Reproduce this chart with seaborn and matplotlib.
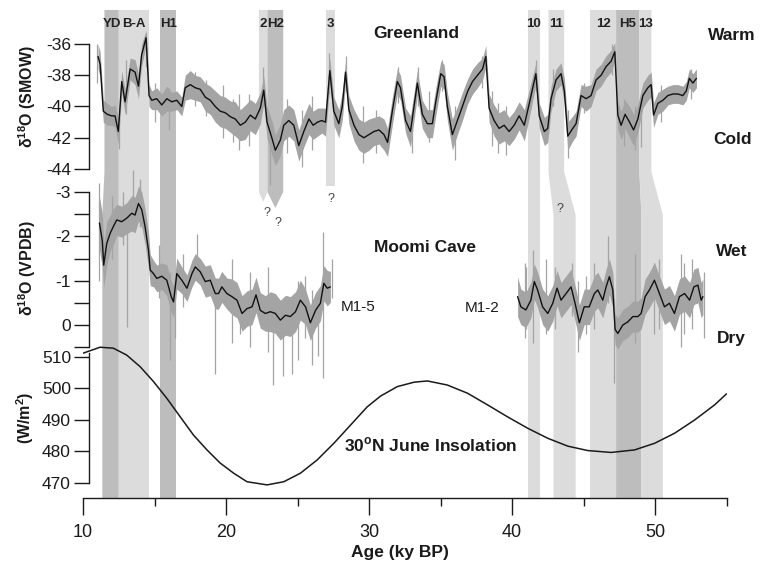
import matplotlib
matplotlib.use("Agg")
import matplotlib.pyplot as plt
import seaborn as sns
import numpy as np
import pandas as pd

# ---- Greenland d18O (SMOW), smoothed curve + spread of raw data ----
gis_age = [11.05, 11.2, 11.42, 11.7, 12.0, 12.24, 12.47, 12.71, 12.94, 13.3, 13.64, 13.88, 14.1, 14.41,
           14.62, 14.81, 15.16, 15.51, 15.86, 16.21, 16.56, 16.91, 17.15, 17.5, 17.85, 18.2, 18.55, 18.9,
           19.25, 19.6, 19.95, 20.3, 20.65, 21.0, 21.35, 21.7, 22.05, 22.4, 22.64, 22.87, 23.22, 23.45,
           23.8, 24.04, 24.39, 24.74, 25.09, 25.44, 25.8, 26.1, 26.4, 26.7, 26.96, 27.26, 27.54, 27.89,
           28.13, 28.36, 28.59, 28.95, 29.3, 29.64, 30.0, 30.35, 30.7, 31.05, 31.3, 31.63, 31.98, 32.2,
           32.56, 32.9, 33.15, 33.38, 33.73, 34.08, 34.43, 34.67, 35.02, 35.25, 35.48, 35.83, 36.18,
           36.53, 36.89, 37.24, 37.59, 37.94, 38.17, 38.4, 38.75, 39.1, 39.45, 39.8, 40.15, 40.5, 40.86,
           41.21, 41.67, 41.91, 42.26, 42.5, 42.73, 43.08, 43.43, 43.66, 43.9, 44.25, 44.48, 44.83,
           45.18, 45.53, 45.88, 46.23, 46.58, 46.93, 47.19, 47.4, 47.63, 47.91, 48.22, 48.5, 48.8,
           49.15, 49.5, 49.73, 49.9, 50.2, 50.55, 50.9, 51.25, 51.6, 51.95, 52.19, 52.4, 52.65, 52.9]
gis_d18o = [-36.8, -37.3, -40.3, -40.5, -40.6, -40.6, -41.6, -38.4, -39.7, -37.6, -37.8, -38.7, -36.7, -35.6,
            -39.3, -39.6, -39.5, -39.9, -39.5, -39.7, -39.6, -40.0, -38.8, -38.6, -38.8, -38.9, -39.4, -39.6,
            -40.0, -40.3, -40.4, -40.65, -40.8, -41.2, -41.0, -40.55, -40.8, -40.1, -38.95, -41.0, -42.05, -42.8,
            -42.15, -41.2, -40.9, -41.2, -42.5, -41.6, -40.8, -41.2, -41.0, -40.9, -41.0, -37.7, -40.3, -41.1,
            -40.0, -37.8, -40.2, -41.2, -41.8, -42.0, -41.8, -41.6, -41.5, -41.8, -42.3, -40.3, -38.4, -38.8,
            -40.9, -41.6, -40.0, -38.5, -40.5, -41.1, -41.1, -39.7, -37.9, -38.1, -40.0, -41.8, -40.9,
            -40.0, -39.05, -38.4, -38.0, -37.6, -36.8, -40.1, -40.9, -41.4, -41.2, -41.6, -41.2, -40.6, -41.2,
            -39.8, -37.9, -40.6, -41.6, -41.4, -39.5, -38.3, -37.9, -39.0, -41.9, -41.4, -41.1, -39.3,
            -39.5, -39.3, -38.3, -38.0, -37.45, -37.1, -36.5, -40.55, -41.2, -40.5, -41.0, -41.5, -40.8,
            -39.3, -38.8, -38.6, -40.55, -39.8, -39.6, -39.3, -39.2, -39.2, -39.3, -39.0, -38.2, -38.5, -38.2]
gis_spread = [0.8, 0.8, 0.7, 0.7, 0.6, 0.7, 0.8, 0.7, 0.8, 0.7, 0.8, 0.8, 0.7, 0.5,
              0.7, 0.6, 0.7, 0.7, 0.8, 0.6, 0.6, 0.6, 0.8, 0.9, 0.8, 0.8, 0.9, 0.9,
              1.0, 1.0, 1.0, 1.0, 1.1, 1.0, 1.1, 1.0, 1.0, 1.0, 0.9, 1.0, 1.1, 1.0,
              1.0, 1.0, 1.0, 1.0, 1.0, 1.0, 1.0, 0.9, 0.9, 0.8, 0.9, 0.8, 0.9, 0.9,
              0.9, 0.7, 0.9, 1.0, 1.0, 1.0, 1.0, 0.9, 0.9, 1.0, 0.9, 0.9, 0.8, 0.8,
              0.8, 1.0, 0.9, 0.8, 0.9, 0.9, 0.9, 0.9, 0.8, 0.8, 0.9, 1.0, 0.9,
              0.9, 0.8, 0.8, 0.8, 0.7, 0.7, 0.9, 1.0, 1.0, 1.0, 0.9, 0.9, 0.9, 1.0,
              0.9, 0.7, 0.8, 0.9, 0.9, 0.8, 0.7, 0.7, 0.8, 0.9, 0.8, 0.8, 0.7,
              0.8, 0.7, 0.7, 0.7, 0.7, 0.7, 0.6, 0.9, 0.9, 0.9, 1.0, 1.0, 0.9,
              0.8, 0.8, 0.8, 0.8, 0.7, 0.7, 0.6, 0.6, 0.6, 0.6, 0.6, 0.6, 0.6, 0.6]
gis_spike_age = [11.0, 12.5, 13.0, 14.4, 15.0, 16.0, 17.8, 18.6, 19.8, 20.5, 20.9, 21.6, 22.6, 23.1,
                 24.3, 25.3, 26.0, 27.2, 28.4, 29.6, 30.5, 32.0, 33.0, 33.4, 34.2, 35.1, 36.0, 37.9,
                 38.6, 39.0, 39.6, 41.7, 42.9, 43.9, 45.0, 47.0, 47.8, 48.6, 49.0, 50.4, 52.5]
gis_spike_hi = [-36.0, -40.8, -37.0, -35.3, -38.5, -38.8, -37.8, -38.3, -38.6, -39.5, -39.2, -39.2, -37.5, -41.0,
                -39.5, -40.2, -39.3, -36.6, -36.8, -40.0, -40.2, -37.5, -40.5, -37.5, -39.0, -37.0, -40.0, -36.8,
                -39.0, -39.8, -40.0, -37.0, -37.6, -40.2, -38.5, -36.0, -39.5, -40.0, -39.5, -38.6, -37.6]
gis_spike_lo = [-38.5, -42.7, -40.5, -37.5, -41.0, -41.5, -40.0, -40.6, -42.0, -42.3, -42.8, -42.5, -40.0, -45.0,
                -43.0, -43.9, -42.8, -39.2, -39.0, -43.6, -43.0, -39.8, -43.0, -40.0, -42.3, -39.0, -43.4, -38.8,
                -42.5, -43.0, -43.1, -39.0, -40.0, -43.3, -40.4, -38.0, -42.5, -42.8, -42.6, -41.0, -39.5]

# ---- Moomi Cave d18O (VPDB): M1-5 and M1-2 ----
m15_age = [11.15, 11.35, 11.45, 11.66, 11.9, 12.12, 12.36, 12.71, 13.06, 13.41, 13.64, 13.88, 14.11, 14.34,
           14.58, 14.7, 14.93, 15.16, 15.51, 15.86, 16.17, 16.33, 16.56, 16.91, 17.27, 17.62, 17.85, 18.2,
           18.55, 18.9, 19.25, 19.48, 19.71, 20.06, 20.41, 20.77, 21.12, 21.47, 21.82, 22.1, 22.4, 22.75,
           23.1, 23.45, 23.8, 24.16, 24.5, 24.86, 25.2, 25.56, 25.9, 26.26, 26.6, 26.84, 27.08, 27.3]
m15_d18o = [-2.3, -1.9, -1.35, -1.84, -2.07, -2.22, -2.37, -2.33, -2.41, -2.52, -2.48, -2.74, -2.6, -2.22,
            -1.69, -1.24, -1.16, -1.05, -1.1, -1.01, -0.64, -0.52, -1.16, -1.01, -0.83, -1.16, -1.31, -1.2,
            -0.98, -1.01, -0.71, -0.71, -0.86, -0.71, -0.64, -0.56, -0.26, -0.37, -0.41, -0.68, -0.33, -0.26,
            -0.3, -0.26, -0.11, -0.22, -0.19, -0.3, -0.56, -0.41, -0.05, -0.33, -0.49, -0.94, -0.83, -0.86]
m15_spread = [0.6, 0.6, 0.5, 0.5, 0.4, 0.4, 0.35, 0.35, 0.35, 0.4, 0.4, 0.4, 0.4, 0.4,
              0.4, 0.35, 0.3, 0.3, 0.3, 0.35, 0.35, 0.35, 0.35, 0.3, 0.3, 0.3, 0.3, 0.3,
              0.35, 0.35, 0.35, 0.35, 0.35, 0.35, 0.4, 0.4, 0.4, 0.4, 0.4, 0.4, 0.4, 0.4,
              0.45, 0.45, 0.45, 0.45, 0.45, 0.45, 0.45, 0.4, 0.4, 0.4, 0.4, 0.4, 0.4, 0.35]
m12_age = [40.39, 40.62, 40.97, 41.32, 41.56, 41.79, 42.14, 42.5, 42.85, 43.15, 43.43, 43.78, 44.13, 44.41,
           44.71, 45.05, 45.4, 45.76, 46.0, 46.35, 46.58, 46.81, 47.05, 47.21, 47.4, 47.75, 48.1, 48.45,
           48.8, 49.03, 49.31, 49.61, 49.96, 50.31, 50.66, 51.01, 51.36, 51.71, 52.07, 52.42, 52.72, 53.0,
           53.23, 53.35]
m12_d18o = [-0.64, -0.41, -0.34, -0.56, -0.98, -0.79, -0.41, -0.26, -0.49, -0.83, -0.56, -0.71, -0.86, -0.49,
            -0.05, -0.41, -0.41, -0.71, -0.79, -0.56, -0.86, -1.09, -0.79, 0.1, 0.19, 0.0, -0.07, -0.19,
            -0.19, -0.26, -0.64, -0.79, -1.01, -0.71, -0.41, -0.49, -0.26, -0.64, -0.71, -0.56, -0.86, -0.9,
            -0.56, -0.64]
m12_spread = [0.45, 0.4, 0.4, 0.4, 0.4, 0.4, 0.4, 0.4, 0.4, 0.4, 0.4, 0.4, 0.4, 0.4,
              0.4, 0.4, 0.4, 0.4, 0.4, 0.4, 0.4, 0.4, 0.4, 0.35, 0.35, 0.35, 0.35, 0.35,
              0.35, 0.35, 0.4, 0.4, 0.4, 0.4, 0.4, 0.4, 0.4, 0.4, 0.4, 0.4, 0.4, 0.4,
              0.4, 0.4]
moomi_spike_age = [11.1, 12.0, 12.8, 13.1, 13.5, 14.0, 15.3, 16.05, 16.4, 17.0, 18.0, 19.2, 20.4, 21.0,
                   21.7, 22.95, 23.3, 24.0, 24.6, 25.0, 25.5, 26.0, 26.4, 26.8, 27.4, 40.9, 41.0, 41.5,
                   42.4, 43.0, 44.2, 44.6, 45.2, 45.7, 46.7, 47.14, 48.6, 49.9, 50.3, 51.8, 52.0, 52.6, 53.4]
moomi_spike_top = [-3.2, -2.9, -3.0, -2.5, -3.5, -3.3, -1.8, -1.2, -0.7, -1.6, -2.05, -0.9, -1.5, -0.6,
                   -1.2, -1.3, -0.5, -0.5, -0.4, -1.0, -1.1, -0.8, -0.5, -2.1, -1.5, -1.4, -1.3, -1.7,
                   -1.5, -1.3, -1.4, -1.0, -1.1, -1.4, -2.0, -0.6, -1.6, -1.4, -1.5, -1.6, -1.4, -1.5, -1.2]
moomi_spike_bot = [-1.0, -1.5, -1.8, 0.05, -2.3, -2.2, -0.6, 0.8, 0.3, -0.4, -1.0, 1.1, 0.4, 0.2,
                   0.5, 0.6, 1.35, 1.15, 1.1, 0.8, 0.3, 0.9, 0.7, 1.2, -0.6, 0.3, 0.1, 0.4,
                   0.2, 0.1, -0.2, 0.6, 0.2, 0.1, -0.5, 1.3, 0.4, 0.2, 0.1, 0.5, 0.2, 0.1, 0.3]

# ---- 30N June insolation (W/m2) ----
ins_age = [10.0, 11.19, 12.12, 13.06, 14.0, 14.93, 15.86, 16.8, 17.73, 18.67, 19.6, 20.54, 21.47, 22.87,
           24.04, 25.2, 26.37, 27.54, 28.71, 29.88, 30.81, 31.98, 33.15, 34.08, 35.48, 36.89, 38.29,
           39.69, 41.09, 42.5, 43.9, 45.3, 46.93, 48.57, 49.97, 51.37, 52.77, 54.17, 55.0]
ins_val = [511.2, 513.1, 512.8, 510.6, 506.9, 502.2, 496.9, 491.0, 485.2, 480.5, 476.3, 473.1, 470.4, 469.4,
           470.4, 473.1, 477.3, 482.6, 488.4, 494.2, 497.6, 500.6, 502.0, 502.4, 501.1, 498.5, 494.8,
           491.0, 487.4, 484.2, 481.7, 480.3, 479.7, 480.5, 482.6, 485.8, 490.0, 494.8, 498.3]

# ---- event bands (ky BP): edges in Greenland panel / in Moomi+insolation panels ----
band_name = ["YD", "B-A", "H1", "2", "H2", "3", "10", "11", "12", "H5", "13"]
band_top_x0 = [11.5, 12.5, 15.4, 22.3, 22.9, 27.0, 41.1, 42.55, 45.48, 47.28, 48.91]
band_top_x1 = [12.5, 14.65, 16.5, 22.9, 24.0, 27.65, 41.95, 43.65, 47.28, 48.91, 49.75]
band_bot_x0 = [11.35, 12.5, 15.4, None, None, None, 41.1, 42.9, 45.48, 47.28, 49.05]
band_bot_x1 = [12.5, 14.65, 16.5, None, None, None, 41.95, 44.45, 47.28, 49.05, 50.55]
band_dark = [True, False, True, False, True, False, False, False, False, True, False]

# ---------------- figure ----------------
sns.set_theme(style="white")
plt.rcParams["font.family"] = ["Liberation Sans", "DejaVu Sans"]
plt.rcParams["axes.unicode_minus"] = False
plt.rcParams["mathtext.fontset"] = "custom"
plt.rcParams["mathtext.rm"] = "Liberation Sans"
plt.rcParams["mathtext.bf"] = "Liberation Sans:bold"

W, H = 760, 564
L, R, T, B = 83, 726.5, 10, 498          # plot frame in pixels
rect = [L / W, 1 - B / H, (R - L) / W, (B - T) / H]
fig = plt.figure(figsize=(W / 100, H / 100), dpi=100)

ink = "#1a1a1a"
light, dark = "#dcdcdc", "#bdbdbd"
raw_col = "#a4a4a4"


def fit_ylim(v0, p0, v1, p1):
    # value at the bottom (B) and top (T) pixel rows
    k = (v1 - v0) / (p1 - p0)
    return v0 + (B - p0) * k, v0 + (T - p0) * k


# background axes: bands + age axis (y in pixel rows)
ax_bg = fig.add_axes(rect, zorder=0)
ax_bg.set_xlim(10, 55)
ax_bg.set_ylim(B, T)
y_split0, y_split1 = 172, 215
taper = {"2": (192, 202), "H2": (192, 208), "3": (186, 186)}
for i, nm in enumerate(band_name):
    x0, x1 = band_top_x0[i], band_top_x1[i]
    col = dark if band_dark[i] else light
    if band_bot_x0[i] is None:
        ya, yt = taper[nm]
        xs = [x0, x1, x1, (x0 + x1) / 2, x0]
        ys = [T, T, ya, yt, ya]
    else:
        b0, b1 = band_bot_x0[i], band_bot_x1[i]
        xs = [x0, x1, x1, b1, b1, b0, b0, x0]
        ys = [T, T, y_split0, y_split1, B, B, y_split1, y_split0]
    ax_bg.fill(xs, ys, color=col, lw=0, zorder=0)
    ax_bg.text((x0 + x1) / 2, 24, nm, ha="center", va="center", fontsize=9.5,
               fontweight="bold", color="#222222", zorder=3)

for sp in ["top", "right", "left"]:
    ax_bg.spines[sp].set_visible(False)
ax_bg.spines["bottom"].set_bounds(10, 55)
ax_bg.spines["bottom"].set_color(ink)
ax_bg.spines["bottom"].set_linewidth(1.0)
ax_bg.set_xticks([10, 20, 30, 40, 50])
ax_bg.set_xticklabels(["10", "20", "30", "40", "50"])
ax_bg.set_xticks([15, 25, 35, 45, 55], minor=True)
ax_bg.tick_params(axis="x", which="major", bottom=True, direction="out", length=12.5, width=1.0,
                  color=ink, labelsize=13, labelcolor=ink, pad=6)
ax_bg.tick_params(axis="x", which="minor", bottom=True, direction="out", length=6, width=1.0, color=ink)
ax_bg.set_yticks([])
ax_bg.set_facecolor("none")
ax_bg.set_xlabel("")


def overlay(z):
    ax = fig.add_axes(rect, zorder=z)
    ax.set_facecolor("none")
    ax.set_xlim(10, 55)
    for sp in ["top", "right", "bottom"]:
        ax.spines[sp].set_visible(False)
    ax.spines["left"].set_position(("data", 10.42))
    ax.spines["left"].set_color(ink)
    ax.spines["left"].set_linewidth(1.0)
    ax.xaxis.set_visible(False)
    ax.tick_params(axis="y", left=True, direction="out", length=11, width=1.0, color=ink,
                   labelsize=12.5, labelcolor=ink, pad=2)
    return ax


# insolation
ax_i = overlay(1)
sns.lineplot(x=ins_age, y=ins_val, ax=ax_i, color=ink, lw=1.1)
ax_i.set_ylim(*fit_ylim(510, 357, 470, 483))
ax_i.set_xlim(10, 55)
ax_i.spines["left"].set_bounds(470, 511.3)
ax_i.set_yticks([470, 480, 490, 500, 510])
ax_i.set_yticklabels(["470", "480", "490", "500", "510"])
ax_i.set_xlabel("")
ax_i.set_ylabel("")

# Greenland
ax_g = overlay(2)
g_lo = np.array(gis_d18o) - np.array(gis_spread)
g_hi = np.array(gis_d18o) + np.array(gis_spread)
ax_g.fill_between(gis_age, g_lo, g_hi, color=raw_col, lw=0)
ax_g.vlines(gis_spike_age, gis_spike_lo, gis_spike_hi, color=raw_col, lw=0.9)
sns.lineplot(x=gis_age, y=gis_d18o, ax=ax_g, color="#111111", lw=1.0)
ax_g.set_ylim(*fit_ylim(-36, 44, -44, 169))
ax_g.set_xlim(10, 55)
ax_g.spines["left"].set_bounds(-44, -36)
ax_g.set_yticks([-44, -42, -40, -38, -36])
ax_g.set_yticklabels(["-44", "-42", "-40", "-38", "-36"])
ax_g.set_xlabel("")
ax_g.set_ylabel("")

# Moomi Cave (axis increases downward)
ax_m = overlay(3)
for age, val, spr in [(m15_age, m15_d18o, m15_spread), (m12_age, m12_d18o, m12_spread)]:
    lo = np.array(val) - np.array(spr)
    hi = np.array(val) + np.array(spr)
    ax_m.fill_between(age, lo, hi, color=raw_col, lw=0)
ax_m.vlines(moomi_spike_age, moomi_spike_top, moomi_spike_bot, color=raw_col, lw=0.9)
sns.lineplot(x=m15_age, y=m15_d18o, ax=ax_m, color="#111111", lw=1.0)
sns.lineplot(x=m12_age, y=m12_d18o, ax=ax_m, color="#111111", lw=1.0)
ax_m.set_ylim(*fit_ylim(-3, 192, 0, 325))
ax_m.set_xlim(10, 55)
ax_m.spines["left"].set_bounds(-3, 0.5)
ax_m.set_yticks([-3, -2.5, -2, -1.5, -1, -0.5, 0, 0.5])
ax_m.set_yticklabels(["-3", "", "-2", "", "-1", "", "0", ""])
ax_m.set_xlabel("")
ax_m.set_ylabel("")


# ---------------- text ----------------
def ftext(x, y, s, **kw):
    kw.setdefault("color", ink)
    fig.text(x / W, 1 - y / H, s, ha=kw.pop("ha", "center"), va=kw.pop("va", "center"), **kw)


ftext(416, 33, "Greenland", fontsize=12.5, fontweight="bold")
ftext(425, 248, "Moomi Cave", fontsize=12.5, fontweight="bold")
ftext(431, 445, r"30$^{\mathbf{o}}$N June Insolation", fontsize=12.5, fontweight="bold")
ftext(732, 36, "Warm", fontsize=12.5, fontweight="bold")
ftext(733, 139, "Cold", fontsize=12.5, fontweight="bold")
ftext(732, 252, "Wet", fontsize=12.5, fontweight="bold")
ftext(731, 338, "Dry", fontsize=12.5, fontweight="bold")
ftext(358, 307, "M1-5", fontsize=11)
ftext(482, 308, "M1-2", fontsize=11)
ftext(400, 552, "Age (ky BP)", fontsize=12.5, fontweight="bold")
ftext(27, 96, r"δ$^{\mathbf{18}}$O (SMOW)", fontsize=11.5, fontweight="bold", rotation=90)
ftext(27, 268, r"δ$^{\mathbf{18}}$O (VPDB)", fontsize=11.5, fontweight="bold", rotation=90)
ftext(25, 418, r"(W/m$^{\mathbf{2}}$)", fontsize=11.5, fontweight="bold", rotation=90)
for qx, qy in [(267, 213), (278, 223), (331, 199), (560, 209)]:
    ftext(qx, qy, "?", fontsize=9, color="#444444")

fig.savefig("out.png", dpi=100)
